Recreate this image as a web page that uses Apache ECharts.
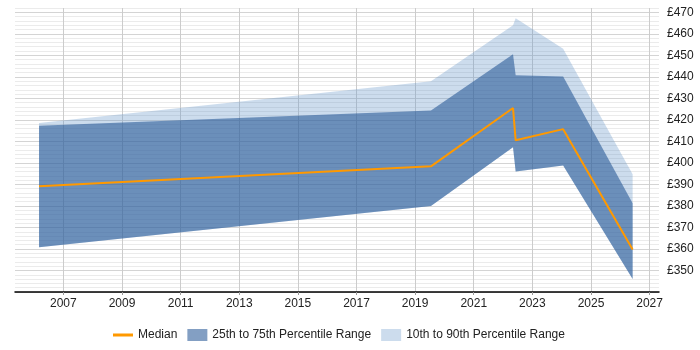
<!DOCTYPE html>
<html>
<head>
<meta charset="utf-8">
<script src="https://cdn.jsdelivr.net/npm/echarts@6/dist/echarts.min.js"></script>
<style>html,body{margin:0;padding:0;background:#fff}#c{width:700px;height:350px}</style>
</head>
<body>
<div id="c"></div>
<script>
// Dates (decimal years) of the data points
var dates = [2006.17, 2019.54, 2022.34, 2022.43, 2024.05, 2026.42];
var median = [389.2, 398.4, 425.5, 410.5, 415.7, 359.8];
var p10 = [360.8, 380.0, 407.3, 396.0, 398.8, 346.1];
var p25 = [360.8, 380.0, 407.3, 396.0, 398.8, 346.1];
var p75 = [417.3, 424.4, 450.5, 440.7, 440.2, 381.3];
var p90 = [418.5, 437.9, 464.0, 467.2, 453.1, 394.7];
var xTicks = [2007, 2009, 2011, 2013, 2015, 2017, 2019, 2021, 2023, 2025, 2027];
var xMin = 2005.35, xMax = 2027.32;

var DARK = 'rgba(30,80,145,0.55)';
var LIGHT = 'rgba(100,150,200,0.33)';
var ORANGE = '#ff9900';

function bandData(lo, hi) { return dates.map(function (d, i) { return [d, lo[i], hi[i]]; }); }
function bandRenderer(lo, hi, color) {
  return function (params, api) {
    if (params.dataIndex !== 0) return null;
    var pts = [];
    for (var i = 0; i < dates.length; i++) pts.push(api.coord([dates[i], hi[i]]));
    for (var j = dates.length - 1; j >= 0; j--) pts.push(api.coord([dates[j], lo[j]]));
    return { type: 'polygon', shape: { points: pts }, style: { fill: color, stroke: null } };
  };
}

var chart = echarts.init(document.getElementById('c'));
var font = 'Liberation Sans, Arial, sans-serif';
chart.setOption({
  animation: false,
  grid: { left: 15, right: 41, top: 8, bottom: 58 },
  xAxis: {
    type: 'value', min: xMin, max: xMax,
    axisLine: { show: true, lineStyle: { color: '#000', width: 1.5 } },
    axisTick: { show: true, length: 3, customValues: xTicks, lineStyle: { color: '#999' } },
    axisLabel: { customValues: xTicks, margin: 6, color: '#222', fontSize: 12, fontFamily: font,
      formatter: function (v) { return String(v); } },
    splitLine: { show: true, lineStyle: { color: '#cccccc', width: 1 } }
  },
  yAxis: {
    type: 'value', position: 'right', min: 340, max: 472, interval: 2,
    axisLine: { show: false }, axisTick: { show: false },
    axisLabel: { margin: 8, color: '#222', fontSize: 12, fontFamily: font,
      formatter: function (v) { return (v % 10 === 0 && v >= 350) ? '£' + v : ''; } },
    splitLine: { show: true, lineStyle: { color: ['#d4d4d4', '#ebebeb', '#ebebeb', '#ebebeb', '#ebebeb'], width: 1 } }
  },
  legend: {
    left: 108, bottom: 4, itemWidth: 20, itemHeight: 12, itemGap: 10,
    textStyle: { fontSize: 12, color: '#222', fontFamily: font },
    data: [
      { name: 'Median', icon: 'path://M0,5 L20,5 L20,8 L0,8 Z', itemStyle: { color: ORANGE } },
      { name: '25th to 75th Percentile Range', icon: 'rect', itemStyle: { color: DARK } },
      { name: '10th to 90th Percentile Range', icon: 'rect', itemStyle: { color: LIGHT } }
    ]
  },
  series: [
    { name: '10th to 90th Percentile Range', type: 'custom', data: bandData(p10, p90),
      encode: { x: 0, y: [1, 2] }, renderItem: bandRenderer(p10, p90, LIGHT), itemStyle: { color: LIGHT }, clip: true, silent: true },
    { name: '25th to 75th Percentile Range', type: 'custom', data: bandData(p25, p75),
      encode: { x: 0, y: [1, 2] }, renderItem: bandRenderer(p25, p75, DARK), itemStyle: { color: DARK }, clip: true, silent: true },
    { name: 'Median', type: 'line', data: dates.map(function (d, i) { return [d, median[i]]; }), symbol: 'none',
      lineStyle: { color: ORANGE, width: 2 }, itemStyle: { color: ORANGE } }
  ]
});
</script>
</body>
</html>
